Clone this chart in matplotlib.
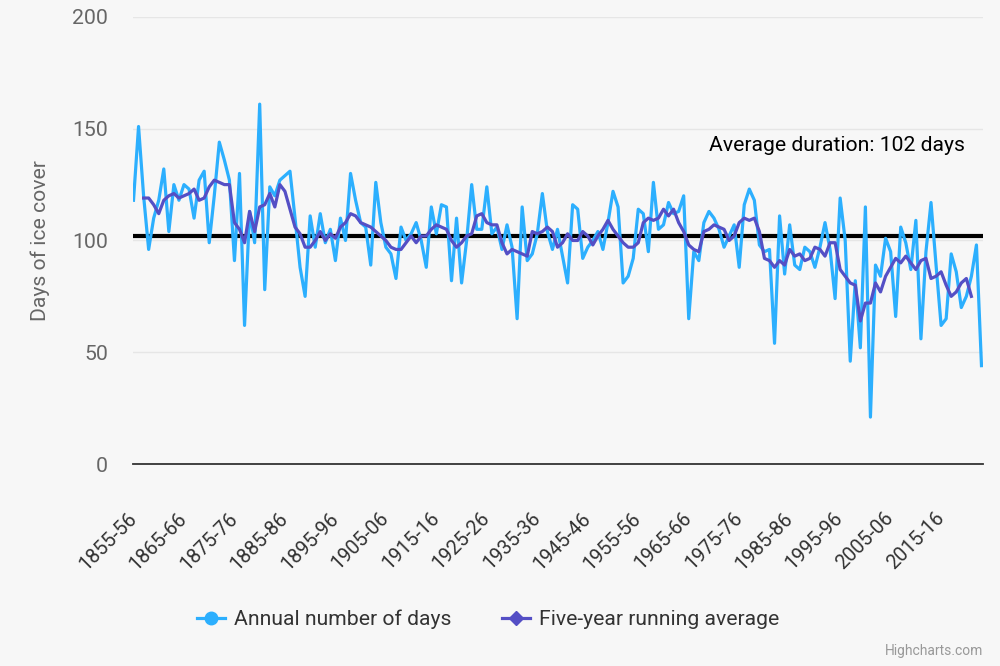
import matplotlib
matplotlib.use("Agg")
import matplotlib.pyplot as plt
from matplotlib.lines import Line2D

# Ice cover seasons 1855-56 .. 2023-24
annual_days = [
    118, 151, 120, 96, 110, 118, 132, 104, 125, 118,
    125, 123, 110, 127, 131, 99, 120, 144, 136, 127,
    91, 130, 62, 113, 99, 161, 78, 124, 120, 127,
    129, 131, 110, 88, 75, 111, 97, 112, 99, 105,
    91, 110, 100, 130, 118, 108, 106, 89, 126, 108,
    97, 94, 83, 106, 100, 103, 108, 100, 88, 115,
    103, 116, 115, 82, 110, 81, 100, 125, 105, 105,
    124, 103, 106, 96, 107, 97, 65, 115, 91, 94,
    103, 121, 104, 96, 105, 93, 81, 116, 114, 92,
    97, 100, 104, 96, 108, 122, 115, 81, 84, 92,
    114, 112, 95, 126, 105, 107, 117, 112, 113, 120,
    65, 95, 91, 108, 113, 110, 105, 97, 102, 107,
    88, 116, 123, 118, 98, 95, 96, 54, 111, 85,
    107, 89, 87, 97, 95, 88, 97, 108, 96, 74,
    119, 100, 46, 82, 52, 115, 21, 89, 84, 101,
    95, 66, 106, 99, 87, 109, 56, 95, 117, 89,
    62, 65, 94, 86, 70, 75, 84, 98, 44,
]

# five-year running average, first value belongs to the 3rd season
running_start = 2
running_avg = [
    119, 119, 116, 112, 118, 120, 121, 119, 120, 121,
    123, 118, 119, 124, 127, 126, 125, 125, 108, 105,
    99, 113, 104, 115, 116, 121, 115, 125, 122, 114,
    106, 103, 97, 97, 100, 104, 100, 103, 101, 106,
    108, 112, 111, 108, 107, 106, 104, 102, 100, 97,
    96, 96, 99, 102, 99, 102, 102, 105, 107, 106,
    105, 100, 97, 99, 102, 103, 111, 112, 108, 107,
    107, 99, 94, 96, 95, 94, 93, 104, 103, 104,
    106, 104, 97, 99, 103, 100, 100, 104, 102, 98,
    102, 105, 109, 105, 102, 99, 97, 97, 99, 108,
    110, 109, 110, 114, 111, 114, 108, 104, 98, 96,
    95, 104, 105, 107, 106, 105, 100, 102, 108, 110,
    109, 110, 104, 92, 91, 88, 91, 89, 96, 93,
    94, 91, 92, 97, 96, 93, 99, 99, 87, 84,
    81, 80, 64, 72, 72, 81, 77, 84, 88, 92,
    90, 93, 90, 87, 91, 92, 83, 84, 86, 80,
    75, 77, 81, 83, 75,
]

tick_labels = [
    "1855-56", "1865-66", "1875-76", "1885-86", "1895-96", "1905-06",
    "1915-16", "1925-26", "1935-36", "1945-46", "1955-56", "1965-66",
    "1975-76", "1985-86", "1995-96", "2005-06", "2015-16",
]
average_duration = 102

BLUE = "#2caffe"
PURPLE = "#544fc5"
BG = "#f7f7f7"
plt.rcParams["font.family"] = ["Roboto", "DejaVu Sans"]

fig = plt.figure(figsize=(10, 6.66), dpi=100, facecolor=BG)
ax = fig.add_axes([0.133, 0.3033, 0.85, 0.6712], facecolor=BG)

x_annual = list(range(len(annual_days)))
x_running = [running_start + i for i in range(len(running_avg))]

ax.axhline(average_duration, color="black", linewidth=3.0, zorder=2)
ax.plot(x_annual, annual_days, color=BLUE, linewidth=2.3, zorder=3,
        solid_joinstyle="round")
ax.plot(x_running, running_avg, color=PURPLE, linewidth=2.3, zorder=4,
        solid_joinstyle="round")

ax.text(0.979, 0.7136, f"Average duration: {average_duration} days",
        transform=ax.transAxes, ha="right", va="center", fontsize=15.2,
        color="black")

ax.set_xlim(-0.1, 168.3)
ax.set_ylim(0, 200)
ax.set_yticks([0, 50, 100, 150, 200])
ax.grid(axis="y", color="#e6e6e6", linewidth=1.0, zorder=0)
ax.set_axisbelow(True)
for side in ["top", "right", "left"]:
    ax.spines[side].set_visible(False)
ax.spines["bottom"].set_color("#333333")
ax.spines["bottom"].set_linewidth(1.3)
ax.tick_params(axis="y", length=0, pad=18, labelsize=15.3, labelcolor="#666666")

ax.set_xticks(range(0, len(annual_days), 10))
ax.set_xticklabels(tick_labels, rotation=45, ha="right", va="center",
                   rotation_mode="anchor", fontsize=14.3, color="#333333")
ax.tick_params(axis="x", length=0, pad=37)

ax.set_ylabel("Days of ice cover", fontsize=15.2, color="#666666", labelpad=16)

handles = [
    Line2D([], [], color=BLUE, linewidth=2.3, marker="o", markersize=9),
    Line2D([], [], color=PURPLE, linewidth=2.3, marker="D", markersize=7),
]
fig.legend(handles, ["Annual number of days", "Five-year running average"],
           loc="center", bbox_to_anchor=(0.488, 0.070), ncol=2, frameon=False,
           fontsize=15.2, labelcolor="#333333", handlelength=1.35,
           columnspacing=2.4, handletextpad=0.4)

fig.text(0.983, 0.022, "Highcharts.com", ha="right", va="center",
         fontsize=10, color="#999999")

fig.savefig("out.png", dpi=100, facecolor=BG)
